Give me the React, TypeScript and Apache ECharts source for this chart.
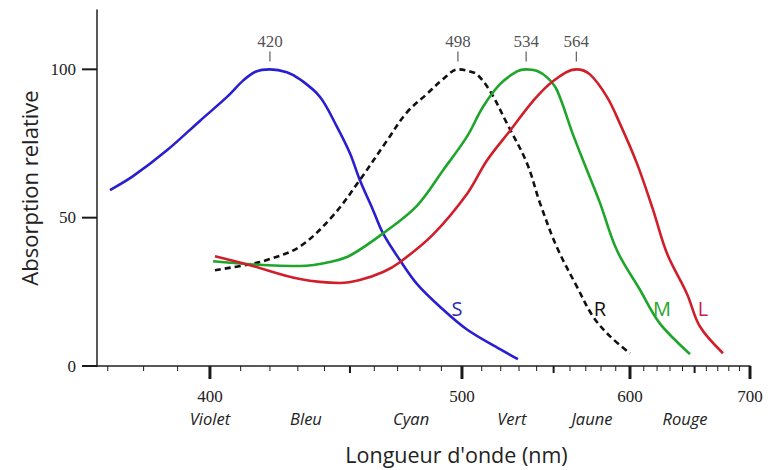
import React, { useEffect, useRef } from "react";
import * as echarts from "echarts";

// ---- data (wavelength in nm, relative absorption in %) ----
const sWavelengths = [370.6, 377, 386.8, 396.9, 405.5, 410.8, 415, 420, 426, 431, 438.3, 444.8, 450, 454, 459.4, 463.7, 471, 478.6, 489.3, 502.5, 519.6, 529.4];
const sValues = [59.3, 64, 72.7, 82.7, 90.7, 96.2, 99.2, 100, 99, 96.5, 90.7, 80.7, 71.7, 62.7, 52.7, 44.7, 35.7, 27.7, 20, 12.3, 5.7, 2.3];

const rWavelengths = [401.6, 413.1, 418.9, 430.8, 443.3, 454, 465.4, 474.1, 483.2, 490.8, 498, 504, 507.6, 514.3, 523.4, 534.5, 541.9, 552, 564.4, 574.7, 586.1, 600];
const rValues = [32.3, 34.3, 35.7, 40.3, 50.7, 62.7, 76, 85.5, 91.7, 96.7, 100, 99.3, 98.3, 92.7, 81.7, 68.3, 55, 40, 26.7, 16.7, 10, 4.3];

const mWavelengths = [401, 413.1, 430.8, 443.3, 450.6, 463.7, 478.6, 490.8, 502.5, 510.6, 519.6, 528.9, 534, 540, 546.1, 552, 561.9, 570.8, 579.3, 590.8, 607.2, 622.2, 646.2];
const mValues = [35.3, 34.3, 33.7, 35.3, 37.5, 44.7, 54, 66, 77.3, 87.3, 95, 99.3, 100, 99.5, 97.3, 93, 78, 66, 55, 39, 25.7, 14.3, 4];

const lWavelengths = [401.6, 413.1, 430.8, 446, 454, 463.7, 471, 486, 502.5, 512.7, 525, 537.9, 549.6, 564, 572.7, 584, 592.9, 605, 616.9, 627.6, 643.7, 654.5, 674.7];
const lValues = [37, 34, 29.3, 28, 29, 31.7, 35, 44.3, 58, 69.3, 79.3, 89.3, 96, 100, 98.3, 90.7, 81.7, 68.3, 52.7, 38, 24.3, 13.3, 4.3];

const seriesNames = ["S", "R", "M", "L"];
const letterWavelengths = [497.5, 579.3, 623.8, 657.1];
const letterValues = [19.3, 19.3, 19.3, 19.3];

const peakWavelengths = [420, 498, 534, 564];

const minorTickWavelengths = [370, 380, 390, 410, 420, 430, 440, 460, 470, 480, 490, 510, 520, 530, 540, 560, 570, 580, 590, 610, 620, 630, 640, 660, 670, 680, 690];
const midTickWavelengths = [450, 550, 650];
const majorTickWavelengths = [400, 500, 600, 700];
const colorNames = ["Violet", "Bleu", "Cyan", "Vert", "Jaune", "Rouge"];
const colorNameWavelengths = [400, 433, 476, 526, 574, 642];
const yTickValues = [0, 50, 100];

const X_MIN_NM = 367.1;
const X_MAX_NM = 700;

// the wavelength axis is linear in wavenumber; negative so that it grows with wavelength
const toX = (nm: number) => -1e4 / nm;
const fromX = (x: number) => -1e4 / x;

const SANS = "'Open Sans', 'Noto Sans', sans-serif";
const SERIF = "'Liberation Serif', 'DejaVu Serif', serif";

function pairs(ws: number[], vs: number[]) {
  return ws.map((w, i) => [toX(w), vs[i]]);
}

function xTickSeries(ws: number[], len: number, width: number) {
  return {
    type: "custom",
    xAxisIndex: 0,
    yAxisIndex: 0,
    clip: false,
    silent: true,
    z: 5,
    data: ws.map((w) => [toX(w), 0]),
    renderItem: (_p: any, api: any) => {
      const pt = api.coord([api.value(0), 0]);
      return {
        type: "line",
        shape: { x1: pt[0], y1: pt[1], x2: pt[0], y2: pt[1] + len },
        style: { stroke: "#1a1a1a", lineWidth: width },
      };
    },
  };
}

function yTickSeries(vs: number[], len: number, width: number) {
  return {
    type: "custom",
    xAxisIndex: 0,
    yAxisIndex: 0,
    clip: false,
    silent: true,
    z: 5,
    data: vs.map((v) => [toX(X_MIN_NM), v]),
    renderItem: (_p: any, api: any) => {
      const pt = api.coord([api.value(0), api.value(1)]);
      return {
        type: "line",
        shape: { x1: pt[0] - len, y1: pt[1], x2: pt[0], y2: pt[1] },
        style: { stroke: "#1a1a1a", lineWidth: width },
      };
    },
  };
}

export default function App() {
  const ref = useRef<HTMLDivElement>(null);

  useEffect(() => {
    if (!ref.current) return;
    const chart = echarts.init(ref.current, undefined, { renderer: "svg" });

    const baseX = {
      type: "value" as const,
      min: toX(X_MIN_NM),
      max: toX(X_MAX_NM),
      position: "bottom" as const,
      splitLine: { show: false },
      axisLine: { show: false },
      axisTick: { show: false },
      axisLabel: { show: false },
    };

    const curve = (idx: number, ws: number[], vs: number[], color: string, letterColor: string, dashed = false) => ({
      type: "line",
      name: seriesNames[idx],
      xAxisIndex: 0,
      data: pairs(ws, vs),
      smooth: 0.35,
      showSymbol: false,
      symbol: "none",
      lineStyle: { color, width: 2.6, type: dashed ? [6, 4] : "solid" },
      itemStyle: { color },
      markPoint: {
        symbol: "circle",
        symbolSize: 0,
        data: [
          {
            coord: [toX(letterWavelengths[idx]), letterValues[idx]],
            label: {
              show: true,
              formatter: seriesNames[idx],
              color: letterColor,
              fontSize: 20,
              fontFamily: SANS,
              position: "inside",
            },
          },
        ],
      },
    });

    chart.setOption({
      animation: false,
      backgroundColor: "#ffffff",
      grid: { left: 97, right: 28, top: 10, bottom: 100 },
      xAxis: [
        {
          ...baseX,
          axisLine: { show: true, onZero: false, lineStyle: { color: "#222", width: 1.5 } },
        },
        {
          ...baseX,
          axisLabel: {
            show: true,
            customValues: majorTickWavelengths.map(toX),
            formatter: (v: number) => String(Math.round(fromX(v))),
            margin: 22,
            fontSize: 17,
            fontFamily: SERIF,
            color: "#222",
          },
        },
        {
          ...baseX,
          axisLabel: {
            show: true,
            customValues: colorNameWavelengths.map(toX),
            formatter: (v: number) => {
              const nm = fromX(v);
              let best = 0;
              colorNameWavelengths.forEach((w, i) => {
                if (Math.abs(w - nm) < Math.abs(colorNameWavelengths[best] - nm)) best = i;
              });
              return colorNames[best];
            },
            margin: 44,
            fontSize: 16.5,
            fontStyle: "italic",
            fontFamily: SANS,
            color: "#222",
          },
          name: "Longueur d'onde (nm)",
          nameLocation: "middle",
          nameGap: 77,
          nameTextStyle: { fontSize: 21.5, fontFamily: SANS, color: "#222", padding: [0, 0, 0, 66] },
        },
      ],
      yAxis: {
        type: "value",
        min: 0,
        max: 120,
        splitLine: { show: false },
        axisLine: { show: true, onZero: false, lineStyle: { color: "#222", width: 1.5 } },
        axisTick: { show: false },
        axisLabel: {
          show: true,
          customValues: yTickValues,
          margin: 21,
          fontSize: 17,
          fontFamily: SERIF,
          color: "#222",
        },
        name: "Absorption relative",
        nameLocation: "middle",
        nameGap: 50,
        nameTextStyle: { fontSize: 22, fontFamily: SANS, color: "#222" },
      },
      series: [
        curve(0, sWavelengths, sValues, "#2a1fd0", "#2b2bb8"),
        curve(1, rWavelengths, rValues, "#111111", "#111111", true),
        curve(2, mWavelengths, mValues, "#1fa52a", "#2aa52a"),
        curve(3, lWavelengths, lValues, "#d01f2a", "#c8204a"),
        {
          type: "scatter",
          xAxisIndex: 0,
          data: peakWavelengths.map((w) => [toX(w), 104.3]),
          symbol: "rect",
          symbolSize: [1.3, 10],
          itemStyle: { color: "#444" },
          label: {
            show: true,
            position: "top",
            distance: 2,
            formatter: (p: any) => String(Math.round(fromX(p.value[0]))),
            fontSize: 17,
            fontFamily: SERIF,
            color: "#222",
          },
          silent: true,
        },
        xTickSeries(minorTickWavelengths, 5, 1),
        xTickSeries(midTickWavelengths, 7, 2),
        xTickSeries(majorTickWavelengths, 13, 3),
        yTickSeries(yTickValues, 15, 2),
      ],
    });

    return () => chart.dispose();
  }, []);

  return (
    <div
      ref={ref}
      style={{ position: "absolute", left: 0, top: 0, width: 778, height: 470, background: "#fff" }}
    />
  );
}
